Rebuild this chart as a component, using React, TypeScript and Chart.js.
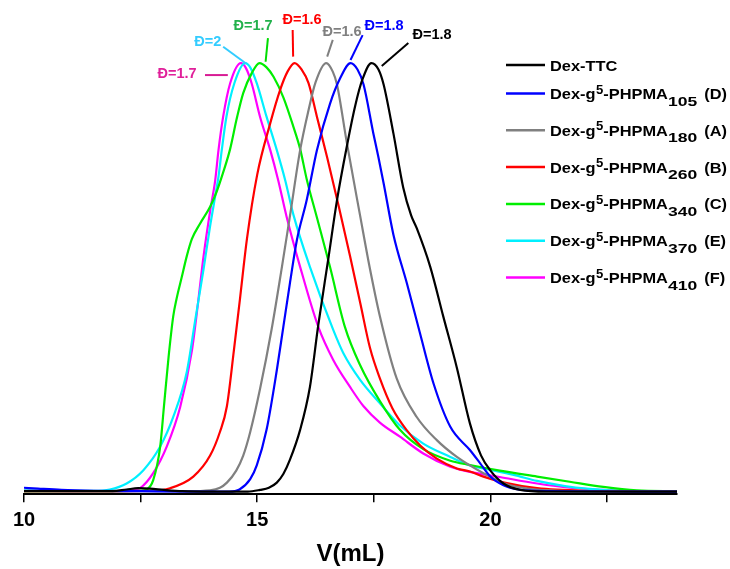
import { useEffect, useRef } from "react";
import { Chart, registerables } from "chart.js";

Chart.register(...registerables);

// ---------- DATA ----------
const xTicks = [10, 12.5, 15, 17.5, 20, 22.5];
const xLabeled = [10, 15, 20];

const dexTTC: [number, number][] = [
  [10, 0.002], [11, 0.002], [11.9, 0.002], [12.2, 0.006], [12.45, 0.009], [12.7, 0.008], [13.0, 0.005],
  [13.4, 0.002], [14.0, 0.001], [14.8, 0.001], [15.06, 0.005], [15.25, 0.01], [15.42, 0.022], [15.56, 0.042],
  [15.7, 0.075], [15.92, 0.145], [16.13, 0.245], [16.31, 0.39], [16.53, 0.548], [16.71, 0.68], [16.92, 0.805],
  [17.1, 0.9], [17.25, 0.96], [17.45, 1.0], [17.6, 0.985], [17.71, 0.95], [17.92, 0.836], [18.13, 0.71],
  [18.3, 0.645], [18.42, 0.615], [18.71, 0.525], [18.99, 0.409], [19.28, 0.29], [19.56, 0.16], [19.8, 0.085],
  [20.0, 0.05], [20.28, 0.02], [20.64, 0.005], [21.2, 0.001], [24, 0.001],
];

const pD105: [number, number][] = [
  [10, 0.01], [10.3, 0.008], [10.8, 0.005], [11.5, 0.003], [12.5, 0.002], [13.5, 0.001], [14.4, 0.001],
  [14.62, 0.006], [14.85, 0.03], [14.99, 0.062], [15.2, 0.145], [15.42, 0.284], [15.56, 0.385], [15.7, 0.486],
  [15.85, 0.587], [16.06, 0.68], [16.28, 0.797], [16.56, 0.905], [16.78, 0.965], [17.0, 1.0], [17.15, 0.985],
  [17.28, 0.95], [17.49, 0.836], [17.6, 0.78], [17.71, 0.72], [17.92, 0.6], [18.21, 0.486], [18.49, 0.37],
  [18.78, 0.253], [19.14, 0.152], [19.56, 0.098], [19.78, 0.067], [19.99, 0.037], [20.28, 0.016], [20.6, 0.006],
  [21, 0.003], [24, 0.001],
];

const pA180: [number, number][] = [
  [10, 0.003], [12, 0.002], [13.5, 0.002], [13.99, 0.004], [14.2, 0.01], [14.35, 0.022], [14.55, 0.05],
  [14.7, 0.085], [14.85, 0.14], [15.06, 0.24], [15.31, 0.38], [15.53, 0.525], [15.7, 0.642], [15.92, 0.797],
  [16.1, 0.89], [16.25, 0.955], [16.48, 1.0], [16.62, 0.98], [16.71, 0.95], [16.92, 0.815], [17.21, 0.642],
  [17.4, 0.53], [17.63, 0.41], [17.99, 0.265], [18.42, 0.175], [18.85, 0.121], [19.28, 0.082], [19.85, 0.044],
  [20.3, 0.02], [20.8, 0.008], [21.5, 0.003], [24, 0.001],
];

const pB260: [number, number][] = [
  [10, 0.002], [12, 0.002], [12.7, 0.003], [13.13, 0.009], [13.63, 0.036], [13.99, 0.085], [14.2, 0.14],
  [14.35, 0.2], [14.5, 0.33], [14.63, 0.45], [14.78, 0.59], [15.0, 0.74], [15.28, 0.86], [15.49, 0.937],
  [15.65, 0.98], [15.8, 1.0], [15.95, 0.985], [16.1, 0.953], [16.28, 0.875], [16.5, 0.78], [16.75, 0.665],
  [16.99, 0.55], [17.21, 0.44], [17.42, 0.335], [17.63, 0.265], [17.9, 0.195], [18.2, 0.145], [18.5, 0.108],
  [18.85, 0.078], [19.28, 0.055], [19.56, 0.048], [19.85, 0.036], [20.3, 0.022], [21, 0.009], [22, 0.003],
  [24, 0.001],
];

const pC340: [number, number][] = [
  [10, 0.002], [12, 0.002], [12.5, 0.003], [12.63, 0.006], [12.77, 0.028], [12.92, 0.106], [13.0, 0.199],
  [13.1, 0.315], [13.2, 0.41], [13.27, 0.45], [13.38, 0.5], [13.49, 0.55], [13.6, 0.59], [13.77, 0.625],
  [13.99, 0.665], [14.13, 0.7], [14.27, 0.745], [14.42, 0.8], [14.56, 0.87], [14.7, 0.93], [14.88, 0.976],
  [15.05, 1.0], [15.2, 0.99], [15.35, 0.968], [15.56, 0.92], [15.78, 0.85], [15.92, 0.8], [16.06, 0.73],
  [16.28, 0.64], [16.56, 0.525], [16.88, 0.385], [17.21, 0.295], [17.63, 0.212], [18.06, 0.145], [18.56, 0.1],
  [19.14, 0.073], [19.56, 0.063], [20.2, 0.05], [21.0, 0.036], [21.7, 0.024], [22.42, 0.012], [23.14, 0.004],
  [24, 0.002],
];

const pE370: [number, number][] = [
  [10, 0.004], [11, 0.003], [11.5, 0.003], [11.84, 0.006], [12.2, 0.02], [12.56, 0.051], [12.92, 0.106],
  [13.2, 0.175], [13.49, 0.28], [13.67, 0.4], [13.85, 0.52], [13.99, 0.62], [14.1, 0.69], [14.17, 0.735],
  [14.24, 0.797], [14.34, 0.875], [14.51, 0.953], [14.74, 1.0], [14.85, 0.99], [14.99, 0.953], [15.2, 0.875],
  [15.42, 0.797], [15.6, 0.727], [15.78, 0.645], [16.13, 0.525], [16.63, 0.378], [16.85, 0.323], [17.21, 0.261],
  [17.63, 0.207], [18.06, 0.155], [18.56, 0.113], [19.14, 0.082], [19.56, 0.062], [19.85, 0.055], [20.5, 0.04],
  [21.0, 0.026], [21.6, 0.014], [22.06, 0.008], [23, 0.002], [24, 0.001],
];

const pF410: [number, number][] = [
  [10, 0.003], [11, 0.002], [12, 0.002], [12.35, 0.005], [12.49, 0.009], [12.77, 0.044], [13.06, 0.106],
  [13.35, 0.199], [13.6, 0.33], [13.73, 0.44], [13.85, 0.55], [13.99, 0.655], [14.1, 0.727], [14.17, 0.797],
  [14.27, 0.875], [14.42, 0.953], [14.65, 1.0], [14.75, 0.99], [14.88, 0.953], [15.06, 0.875], [15.28, 0.797],
  [15.45, 0.727], [15.63, 0.642], [15.92, 0.525], [16.31, 0.385], [16.63, 0.308], [16.99, 0.245], [17.28, 0.2],
  [17.63, 0.162], [18.06, 0.129], [18.56, 0.09], [19.14, 0.059], [19.56, 0.047], [20.2, 0.035], [21.0, 0.02],
  [21.7, 0.01], [22.42, 0.005], [23, 0.002], [24, 0.001],
];

const seriesData = [dexTTC, pD105, pA180, pB260, pC340, pE370, pF410];
const seriesColors = ["#000000", "#0000FF", "#808080", "#FF0000", "#00EE00", "#00F0FF", "#FF00FF"];

// legend text parts: main, superscript, middle, subscript, suffix
const legendMain = ["Dex-TTC", "Dex-g", "Dex-g", "Dex-g", "Dex-g", "Dex-g", "Dex-g"];
const legendSup = ["", "5", "5", "5", "5", "5", "5"];
const legendMid = ["", "-PHPMA", "-PHPMA", "-PHPMA", "-PHPMA", "-PHPMA", "-PHPMA"];
const legendSub = ["", "105", "180", "260", "340", "370", "410"];
const legendSuffix = ["", "(D)", "(A)", "(B)", "(C)", "(E)", "(F)"];

// dispersity annotations (data coordinates)
const dispersity = ["1.8", "1.8", "1.6", "1.6", "1.7", "2", "1.7"];
const dispLabelX = [18.75, 17.72, 16.82, 15.96, 14.91, 13.94, 13.28];
const dispLabelY = [1.065, 1.086, 1.072, 1.1, 1.086, 1.049, 0.974];
const leaderX1 = [18.24, 17.26, 16.62, 15.76, 15.23, 14.27, 13.88];
const leaderY1 = [1.047, 1.065, 1.054, 1.077, 1.058, 1.038, 0.972];
const leaderX2 = [17.67, 17.0, 16.5, 15.77, 15.18, 14.76, 14.37];
const leaderY2 = [0.993, 1.007, 1.015, 1.015, 1.003, 0.999, 0.972];
const dispTextColors = ["#000000", "#0000FF", "#808080", "#FF0000", "#22B14C", "#33CCFF", "#E0209A"];
const dispLineColors = ["#000000", "#0000FF", "#808080", "#FF0000", "#00DD00", "#33CCFF", "#D81B94"];

const FONT = "'Liberation Sans', Arial, Helvetica, sans-serif";

function drawScaledText(ctx: CanvasRenderingContext2D, text: string, x: number, y: number, size: number, sx: number) {
  ctx.save();
  ctx.font = `bold ${size}px ${FONT}`;
  ctx.translate(x, y);
  ctx.scale(sx, 1);
  ctx.fillText(text, 0, 0);
  const w = ctx.measureText(text).width * sx;
  ctx.restore();
  return w;
}

const overlayPlugin = {
  id: "overlay",
  afterDatasetsDraw(chart: any) {
    const ctx: CanvasRenderingContext2D = chart.ctx;
    const xs = chart.scales.x;
    const ys = chart.scales.y;
    ctx.save();
    // dispersity labels
    for (let i = 0; i < dispersity.length; i++) {
      ctx.strokeStyle = dispLineColors[i];
      ctx.lineWidth = 2;
      ctx.beginPath();
      ctx.moveTo(xs.getPixelForValue(leaderX1[i]), ys.getPixelForValue(leaderY1[i]));
      ctx.lineTo(xs.getPixelForValue(leaderX2[i]), ys.getPixelForValue(leaderY2[i]));
      ctx.stroke();
      ctx.fillStyle = dispTextColors[i];
      ctx.font = `bold 14.5px ${FONT}`;
      ctx.textAlign = "center";
      ctx.textBaseline = "middle";
      ctx.fillText("Đ=" + dispersity[i], xs.getPixelForValue(dispLabelX[i]), ys.getPixelForValue(dispLabelY[i]));
    }
    // legend
    const lx0 = 506;
    const lx1 = 545;
    const tx = 550;
    ctx.textAlign = "left";
    ctx.textBaseline = "alphabetic";
    for (let i = 0; i < legendMain.length; i++) {
      const y = i === 0 ? 65 : 93.5 + (i - 1) * 36.8;
      ctx.strokeStyle = seriesColors[i];
      ctx.lineWidth = 2.5;
      ctx.beginPath();
      ctx.moveTo(lx0, y);
      ctx.lineTo(lx1, y);
      ctx.stroke();
      ctx.fillStyle = "#000";
      let x = tx;
      x += drawScaledText(ctx, legendMain[i], x, y + 5.5, 14, 1.17);
      if (legendSup[i]) x += drawScaledText(ctx, legendSup[i], x + 0.5, y, 12.5, 1.05) + 0.5;
      if (legendMid[i]) x += drawScaledText(ctx, legendMid[i], x, y + 5.5, 14, 1.17);
      if (legendSub[i]) x += drawScaledText(ctx, legendSub[i], x, y + 12, 13, 1.35);
      if (legendSuffix[i]) drawScaledText(ctx, legendSuffix[i], x + 7, y + 5.5, 14, 1.17);
    }
    ctx.restore();
  },
};

export default function App() {
  const ref = useRef<HTMLCanvasElement>(null);
  useEffect(() => {
    const chart = new Chart(ref.current as HTMLCanvasElement, {
      type: "line",
      data: {
        datasets: seriesData.map((d, i) => ({
          label: legendMain[i] + legendSup[i] + legendMid[i] + legendSub[i] + legendSuffix[i],
          data: d.map(([x, y]) => ({ x, y })),
          borderColor: seriesColors[i],
          borderWidth: 2.2,
          pointRadius: 0,
          fill: false,
          cubicInterpolationMode: "monotone" as const,
        })),
      },
      options: {
        responsive: false,
        animation: false,
        devicePixelRatio: 1,
        layout: { padding: { left: 24, right: 53, top: 0, bottom: 0 } },
        plugins: { legend: { display: false }, tooltip: { enabled: false } },
        scales: {
          x: {
            type: "linear",
            min: 10,
            max: 24,
            bounds: "data",
            afterBuildTicks: (axis: any) => {
              axis.ticks = xTicks.map((v) => ({ value: v }));
            },
            ticks: {
              autoSkip: false,
              maxRotation: 0,
              padding: 6,
              color: "#000",
              font: { family: FONT, size: 20, weight: "bold" },
              callback: (v: any) => (xLabeled.includes(Number(v)) ? String(v) : ""),
            },
            grid: {
              display: true,
              drawOnChartArea: false,
              drawTicks: true,
              tickLength: 8,
              color: "#000",
              lineWidth: 1.5,
            },
            border: { display: true, color: "#000", width: 2 },
            title: {
              display: true,
              text: "V(mL)",
              color: "#000",
              font: { family: FONT, size: 24, weight: "bold" },
              padding: { top: 2, bottom: 0 },
            },
          },
          y: {
            type: "linear",
            display: false,
            min: -0.005,
            max: 1.147,
          },
        },
      },
      plugins: [overlayPlugin],
    } as any);
    return () => chart.destroy();
  }, []);
  return (
    <div style={{ position: "fixed", left: 0, top: 0, width: 730, height: 569, background: "#fff" }}>
      <canvas ref={ref} width={730} height={569} style={{ display: "block", width: 730, height: 569 }} />
    </div>
  );
}
